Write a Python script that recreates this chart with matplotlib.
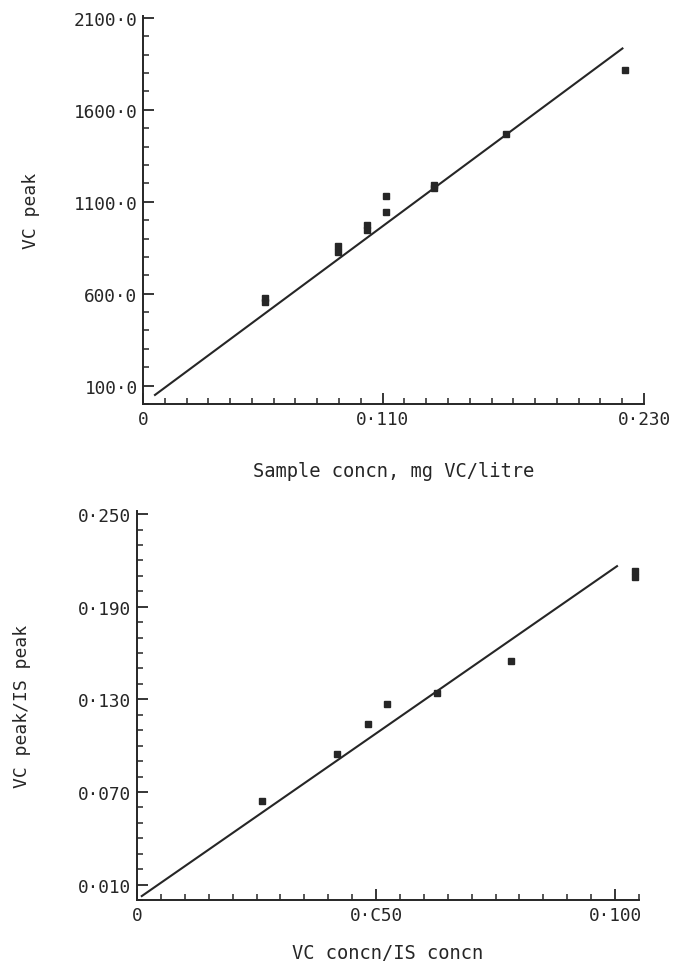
import numpy as np
import matplotlib.pyplot as plt
from matplotlib.ticker import FixedLocator, MultipleLocator

plt.rcParams['font.family'] = ['DejaVu Sans Mono']

# top panel: sample concn vs VC peak
conc_a = [0.0560, 0.0560, 0.0893, 0.0893, 0.1027, 0.1027, 0.1115, 0.1115, 0.1335, 0.1335, 0.1666, 0.2213]
peak_a = [575, 555, 857, 826, 975, 947, 1132, 1043, 1192, 1174, 1467, 1817]
fit_a_x = [0.0055, 0.2201]
fit_a_slope, fit_a_icpt = 8780.0, 1.0

# bottom panel: ratio vs ratio
ratio_x = [0.0262, 0.0419, 0.0483, 0.0523, 0.0627, 0.0783, 0.1041, 0.1041]
ratio_y = [0.0642, 0.0944, 0.1139, 0.1267, 0.1340, 0.1548, 0.2131, 0.2093]
fit_b_x = [0.0010, 0.1004]
fit_b_slope, fit_b_icpt = 2.15, 0.0004

yt_a = [100, 600, 1100, 1600, 2100]
yl_a = ["100·0", "600·0", "1100·0", "1600·0", "2100·0"]
xt_a = [0, 0.11, 0.23]
xl_a = ["0", "0·110", "0·230"]

yt_b = [0.01, 0.07, 0.13, 0.19, 0.25]
yl_b = ["0·010", "0·070", "0·130", "0·190", "0·250"]
xt_b = [0, 0.05, 0.10]
xl_b = ["0", "0·C50", "0·100"]

ink = "#262626"
W, H = 676, 978
fig = plt.figure(figsize=(W / 100, H / 100), dpi=100)

def frac(l, r, t, b):
    return [l / W, 1 - b / H, (r - l) / W, (b - t) / H]

def style(ax):
    for s in ["top", "right"]:
        ax.spines[s].set_visible(False)
    for s in ["left", "bottom"]:
        ax.spines[s].set_color(ink)
        ax.spines[s].set_linewidth(1.4)
    ax.tick_params(which="major", direction="in", length=8, width=1.3, color=ink,
                   labelsize=12.8, labelcolor=ink, pad=4)
    ax.tick_params(which="minor", direction="in", length=4.5, width=1.1, color=ink)

ax1 = fig.add_axes(frac(143, 644, 17, 405))
style(ax1)
fx = np.array(fit_a_x)
ax1.plot(fx, fit_a_slope * fx + fit_a_icpt, color=ink, lw=1.5)
ax1.plot(conc_a, peak_a, ls="none", marker="s", ms=4.2, color=ink)
ax1.set_xlim(0, 0.23)
ax1.set_ylim(0, 2110)
ax1.yaxis.set_major_locator(FixedLocator(yt_a))
ax1.set_yticklabels(yl_a)
ax1.yaxis.set_minor_locator(MultipleLocator(100))
ax1.xaxis.set_major_locator(FixedLocator(xt_a))
ax1.set_xticklabels(xl_a)
ax1.xaxis.set_minor_locator(MultipleLocator(0.01))
ax1.set_ylabel("VC peak", fontsize=13, color=ink, labelpad=24)
ax1.set_xlabel("Sample concn, mg VC/litre", fontsize=13.5, color=ink, labelpad=24)

ax2 = fig.add_axes(frac(137, 639, 512, 901))
style(ax2)
fx = np.array(fit_b_x)
ax2.plot(fx, fit_b_slope * fx + fit_b_icpt, color=ink, lw=1.5)
ax2.plot(ratio_x, ratio_y, ls="none", marker="s", ms=4.2, color=ink)
ax2.set_xlim(0, 0.105)
ax2.set_ylim(0, 0.252)
ax2.yaxis.set_major_locator(FixedLocator(yt_b))
ax2.set_yticklabels(yl_b)
ax2.yaxis.set_minor_locator(MultipleLocator(0.01))
ax2.xaxis.set_major_locator(FixedLocator(xt_b))
ax2.set_xticklabels(xl_b)
ax2.xaxis.set_minor_locator(MultipleLocator(0.005))
ax2.set_ylabel("VC peak/IS peak", fontsize=13, color=ink, labelpad=34)
ax2.set_xlabel("VC concn/IS concn", fontsize=13.5, color=ink, labelpad=14)

fig.savefig("out.png", dpi=100)
